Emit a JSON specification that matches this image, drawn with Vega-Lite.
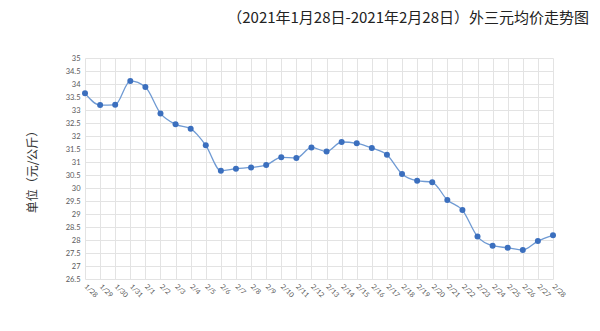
{
  "$schema": "https://vega.github.io/schema/vega-lite/v6.json",
  "width": 468,
  "height": 221,
  "autosize": {"type": "none"},
  "padding": {"left": 85, "top": 58, "right": 47, "bottom": 52},
  "background": "white",
  "title": {
    "text": "（2021年1月28日-2021年2月28日）外三元均价走势图",
    "anchor": "end",
    "frame": "group",
    "dx": 36,
    "offset": 28,
    "font": "Noto Sans CJK SC",
    "fontSize": 15,
    "fontWeight": "normal",
    "color": "#222222"
  },
  "data": {
    "values": [
      {"date": "1/28", "price": 33.64},
      {"date": "1/29", "price": 33.19},
      {"date": "1/30", "price": 33.2},
      {"date": "1/31", "price": 34.12},
      {"date": "2/1", "price": 33.88},
      {"date": "2/2", "price": 32.87},
      {"date": "2/3", "price": 32.45},
      {"date": "2/4", "price": 32.28},
      {"date": "2/5", "price": 31.64},
      {"date": "2/6", "price": 30.66},
      {"date": "2/7", "price": 30.74},
      {"date": "2/8", "price": 30.79},
      {"date": "2/9", "price": 30.88},
      {"date": "2/10", "price": 31.18},
      {"date": "2/11", "price": 31.15},
      {"date": "2/12", "price": 31.56},
      {"date": "2/13", "price": 31.4},
      {"date": "2/14", "price": 31.77},
      {"date": "2/15", "price": 31.72},
      {"date": "2/16", "price": 31.54},
      {"date": "2/17", "price": 31.28},
      {"date": "2/18", "price": 30.54},
      {"date": "2/19", "price": 30.28},
      {"date": "2/20", "price": 30.22},
      {"date": "2/21", "price": 29.54},
      {"date": "2/22", "price": 29.15},
      {"date": "2/23", "price": 28.13},
      {"date": "2/24", "price": 27.78},
      {"date": "2/25", "price": 27.7},
      {"date": "2/26", "price": 27.62},
      {"date": "2/27", "price": 27.96},
      {"date": "2/28", "price": 28.18}
    ]
  },
  "encoding": {
    "x": {
      "field": "date",
      "type": "ordinal",
      "sort": null,
      "scale": {"type": "point", "padding": 0},
      "axis": {
        "title": null,
        "grid": true,
        "gridColor": "#e3e3e3",
        "gridWidth": 1,
        "domain": false,
        "ticks": false,
        "labelAngle": 45,
        "labelAlign": "left",
        "labelBaseline": "middle",
        "labelPadding": 6,
        "labelFontSize": 7,
        "labelFont": "Lato",
        "labelColor": "#595959"
      }
    },
    "y": {
      "field": "price",
      "type": "quantitative",
      "scale": {"domain": [26.5, 35], "nice": false, "zero": false},
      "axis": {
        "title": "单位（元/公斤）",
        "titleFont": "Noto Sans CJK SC",
        "titleFontSize": 12,
        "titleFontWeight": "normal",
        "titleColor": "#333333",
        "titlePadding": 26,
        "values": [26.5, 27, 27.5, 28, 28.5, 29, 29.5, 30, 30.5, 31, 31.5, 32, 32.5, 33, 33.5, 34, 34.5, 35],
        "format": "~f",
        "grid": true,
        "gridColor": "#e3e3e3",
        "gridWidth": 1,
        "domain": false,
        "ticks": false,
        "labelPadding": 5,
        "labelFontSize": 7.5,
        "labelFont": "Lato",
        "labelColor": "#595959"
      }
    }
  },
  "layer": [
    {
      "mark": {"type": "line", "interpolate": "monotone", "color": "#6f9ad3", "strokeWidth": 1.3}
    },
    {
      "mark": {"type": "point", "filled": true, "color": "#3b6fbe", "size": 36, "opacity": 1}
    }
  ],
  "config": {
    "view": {"stroke": null}
  }
}
